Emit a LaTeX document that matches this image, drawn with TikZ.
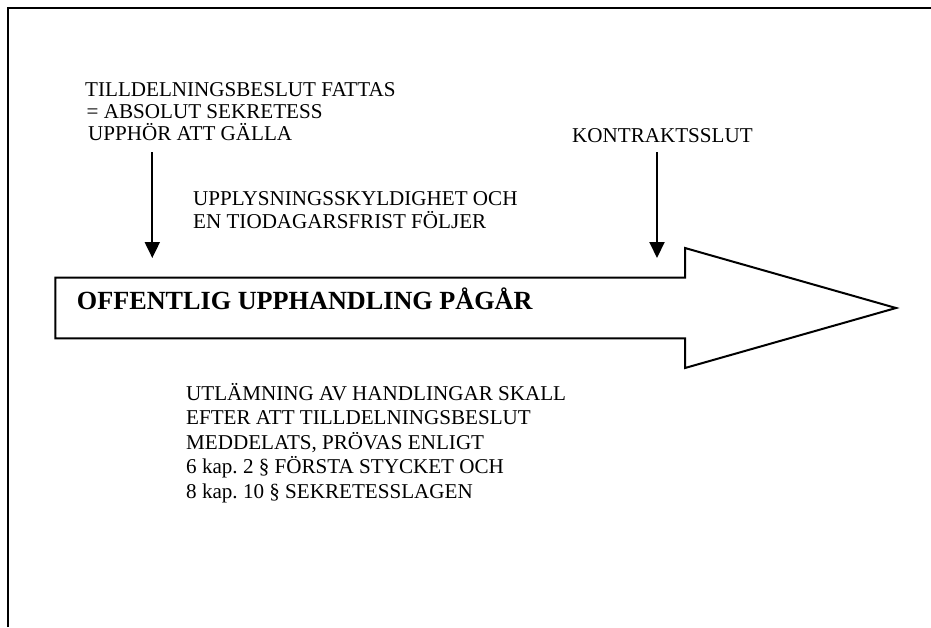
\documentclass[tikz,border=0pt]{standalone}
\usepackage{fontspec}
\setmainfont{Liberation Serif}
\usetikzlibrary{arrows.meta}
\frenchspacing
\begin{document}
\begin{tikzpicture}[x=1pt,y=-1pt,
  txt/.style={anchor=base west,inner sep=0pt,font=\fontsize{21.1}{24}\selectfont},
  ttl/.style={anchor=base west,inner sep=0pt,font=\fontsize{26.2}{30}\selectfont\bfseries},
  pointer/.style={line width=2pt,-{Triangle[width=15pt,length=16pt]}},
  frameline/.style={line width=2pt},
  bigarrow/.style={line width=2pt,line join=miter}
]
\useasboundingbox (0,0) rectangle (931,627);
% partial frame
\draw[frameline] (7.5,627) -- (7.5,8.3) -- (931,8.3);
% big arrow
\draw[bigarrow] (55.3,277.7) -- (685,277.7) -- (685,248) -- (896,308) -- (685,368) -- (685,338.3) -- (55.3,338.3) -- cycle;
\node[ttl] (title) at (76.7,309) {OFFENTLIG UPPHANDLING PÅGÅR};
% top-left block
\node[txt] (t1) at (85,96) {TILLDELNINGSBESLUT FATTAS};
\node[txt] (t2) at (86.5,118) {= ABSOLUT SEKRETESS};
\node[txt] (t3) at (88,140) {UPPHÖR ATT GÄLLA};
% middle block
\node[txt] (u1) at (193,205) {UPPLYSNINGSSKYLDIGHET OCH};
\node[txt] (u2) at (193,228) {EN TIODAGARSFRIST FÖLJER};
% right label
\node[txt] (k) at (572,142) {KONTRAKTSSLUT};
% bottom block
\node[txt] (b1) at (186,400) {UTLÄMNING AV HANDLINGAR SKALL};
\node[txt] (b2) at (186,424.5) {EFTER ATT TILLDELNINGSBESLUT};
\node[txt] (b3) at (186,449) {MEDDELATS, PRÖVAS ENLIGT};
\node[txt] (b4) at (186,473.5) {6 kap. 2 § FÖRSTA STYCKET OCH};
\node[txt] (b5) at (186,498) {8 kap. 10 § SEKRETESSLAGEN};
% pointers
\coordinate (p1s) at (152.3,152);
\coordinate (p1e) at (152.3,258);
\coordinate (p2s) at (657,152);
\coordinate (p2e) at (657,258);
\draw[pointer] (p1s) -- (p1e);
\draw[pointer] (p2s) -- (p2e);
\end{tikzpicture}
\end{document}
